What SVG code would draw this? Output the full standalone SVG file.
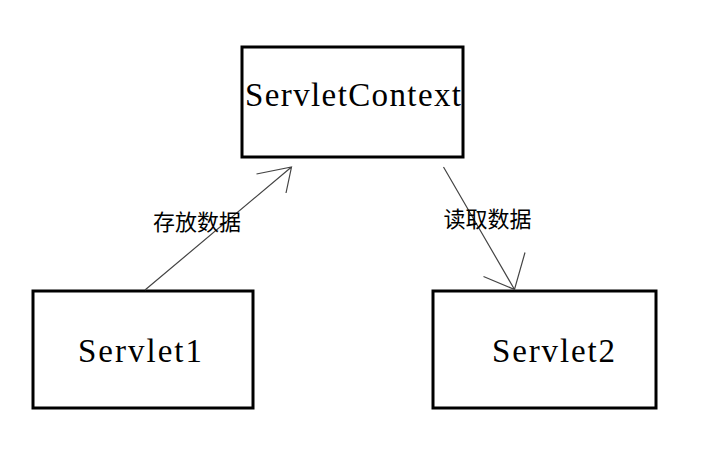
<svg xmlns="http://www.w3.org/2000/svg" width="716" height="457" viewBox="0 0 716 457">
<style>
.box{fill:#fff;stroke:#000;stroke-width:3}
.lbl{font-family:"Liberation Serif","Noto Sans CJK SC",serif;font-size:33px;fill:#000}
.cn{font-family:"Noto Sans CJK SC",sans-serif;font-size:22px;fill:#000}
.ln{fill:none;stroke:#444;stroke-width:1.2}
</style>
<rect width="716" height="457" fill="#fff"/>
<g id="servletcontext">
<rect class="box" x="242" y="47" width="221" height="110"/>
<text class="lbl" x="245" y="106" textLength="216" lengthAdjust="spacing">ServletContext</text>
</g>
<g id="servlet1">
<rect class="box" x="33" y="291" width="220" height="117"/>
<text class="lbl" x="78" y="362" textLength="124" lengthAdjust="spacing">Servlet1</text>
</g>
<g id="servlet2">
<rect class="box" x="433" y="291" width="223" height="117"/>
<text class="lbl" x="492" y="362" textLength="123" lengthAdjust="spacing">Servlet2</text>
</g>
<g id="connectors">
<path class="ln" d="M145,290 L291.5,167 M256.5,174 L291.5,167 L286,193"/>
<path class="ln" d="M443.5,167 L514.5,289.5 M483.5,276.5 L514.5,289.5 L525,252.5"/>
<text class="cn" x="197" y="230" text-anchor="middle">存放数据</text>
<text class="cn" x="487.5" y="227" text-anchor="middle">读取数据</text>
</g>
</svg>
